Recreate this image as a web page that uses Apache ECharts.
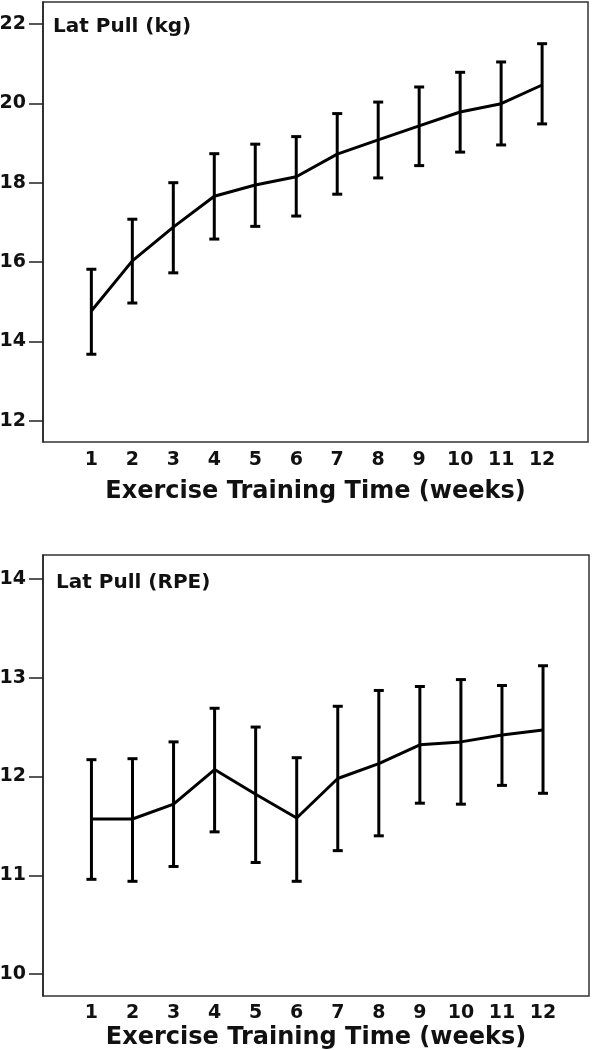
<!DOCTYPE html>
<html>
<head>
<meta charset="utf-8">
<script src="https://cdn.jsdelivr.net/npm/echarts@6/dist/echarts.min.js"></script>
<style>
html,body{margin:0;padding:0;background:#fff;}
#chart{width:593px;height:1050px;}
</style>
</head>
<body>
<div id="chart"></div>
<script>
// ---- data ----
const weeks = [1, 2, 3, 4, 5, 6, 7, 8, 9, 10, 11, 12];
const kgMean  = [14.77, 16.03, 16.88, 17.66, 17.94, 18.15, 18.72, 19.08, 19.43, 19.78, 19.99, 20.46];
const kgUpper = [15.82, 17.08, 18.00, 18.73, 18.97, 19.16, 19.74, 20.03, 20.41, 20.78, 21.04, 21.50];
const kgLower = [13.68, 14.97, 15.73, 16.58, 16.90, 17.16, 17.71, 18.12, 18.43, 18.77, 18.95, 19.48];
const rpeMean  = [11.57, 11.57, 11.72, 12.07, 11.82, 11.58, 11.98, 12.13, 12.32, 12.35, 12.42, 12.47];
const rpeUpper = [12.17, 12.18, 12.35, 12.69, 12.50, 12.19, 12.71, 12.87, 12.91, 12.98, 12.92, 13.12];
const rpeLower = [10.96, 10.94, 11.09, 11.44, 11.13, 10.94, 11.25, 11.40, 11.73, 11.72, 11.91, 11.83];
const kgTicks  = [12, 14, 16, 18, 20, 22];
const rpeTicks = [10, 11, 12, 13, 14];
const xTitle = 'Exercise Training Time (weeks)';
const panelLabels = ['Lat Pull (kg)', 'Lat Pull (RPE)'];

// ---- chart ----
const FONT = '"DejaVu Sans", sans-serif';
const INK = '#111';
const chart = echarts.init(document.getElementById('chart'), null, {renderer: 'canvas'});

function xAxisFor(gridIndex, labelMargin, nameGap) {
  return {
    type: 'value', gridIndex: gridIndex, min: -0.18, max: 13.12,
    splitLine: {show: false},
    axisLine: {show: false, onZero: false},
    axisTick: {show: false},
    axisLabel: {
      customValues: weeks, margin: labelMargin,
      color: INK, fontFamily: FONT, fontWeight: 'bold', fontSize: 19
    },
    name: xTitle, nameLocation: 'middle', nameGap: nameGap,
    nameTextStyle: {color: INK, fontFamily: FONT, fontWeight: 'bold', fontSize: 24}
  };
}
function yAxisFor(gridIndex, min, max, ticks) {
  return {
    type: 'value', gridIndex: gridIndex, min: min, max: max,
    splitLine: {show: false},
    axisLine: {show: true, onZero: false, lineStyle: {color: '#222', width: 1.5}},
    axisTick: {show: true, customValues: ticks, length: 14, lineStyle: {color: '#222', width: 1.5}},
    axisLabel: {
      customValues: ticks, margin: 17,
      color: INK, fontFamily: FONT, fontWeight: 'bold', fontSize: 19
    }
  };
}
function errRender(params, api) {
  const x = api.value(0);
  const hi = api.coord([x, api.value(2)]);
  const lo = api.coord([x, api.value(1)]);
  const cw = 5;
  const st = {stroke: '#000', lineWidth: 3};
  return {
    type: 'group',
    children: [
      {type: 'line', shape: {x1: hi[0], y1: hi[1], x2: lo[0], y2: lo[1]}, style: st},
      {type: 'line', shape: {x1: hi[0] - cw, y1: hi[1], x2: hi[0] + cw, y2: hi[1]}, style: st},
      {type: 'line', shape: {x1: lo[0] - cw, y1: lo[1], x2: lo[0] + cw, y2: lo[1]}, style: st}
    ]
  };
}
const pair = (xs, ys) => xs.map((x, i) => [x, ys[i]]);
const triple = (xs, lo, hi) => xs.map((x, i) => [x, lo[i], hi[i]]);

const gridBase = {show: true, borderColor: '#333', borderWidth: 1.5, backgroundColor: 'transparent',
  containLabel: false, outerBoundsMode: 'none'};
const option = {
  animation: false,
  backgroundColor: '#fff',
  grid: [
    Object.assign({left: 43, right: 5, top: 2, height: 440}, gridBase),
    Object.assign({left: 43, right: 4, top: 555, height: 441}, gridBase)
  ],
  xAxis: [xAxisFor(0, 9, 38), xAxisFor(1, 8, 30)],
  yAxis: [yAxisFor(0, 11.47, 22.55, kgTicks), yAxisFor(1, 9.78, 14.24, rpeTicks)],
  graphic: [
    {type: 'text', x: 53, y: 27, style: {text: panelLabels[0], fill: INK, font: 'bold 20px ' + FONT, verticalAlign: 'middle'}},
    {type: 'text', x: 56, y: 583, style: {text: panelLabels[1], fill: INK, font: 'bold 20px ' + FONT, verticalAlign: 'middle'}}
  ],
  series: [
    {type: 'line', xAxisIndex: 0, yAxisIndex: 0, data: pair(weeks, kgMean), symbol: 'none',
     lineStyle: {color: '#000', width: 3}},
    {type: 'custom', xAxisIndex: 0, yAxisIndex: 0, data: triple(weeks, kgLower, kgUpper), renderItem: errRender},
    {type: 'line', xAxisIndex: 1, yAxisIndex: 1, data: pair(weeks, rpeMean), symbol: 'none',
     lineStyle: {color: '#000', width: 3}},
    {type: 'custom', xAxisIndex: 1, yAxisIndex: 1, data: triple(weeks, rpeLower, rpeUpper), renderItem: errRender}
  ]
};
chart.setOption(option);
</script>
</body>
</html>
